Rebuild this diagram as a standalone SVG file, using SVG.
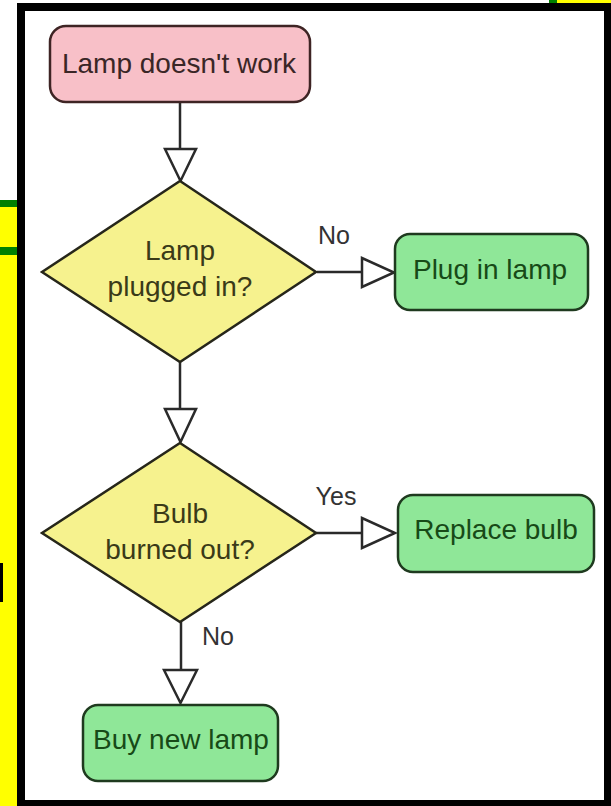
<svg xmlns="http://www.w3.org/2000/svg" width="611" height="806" viewBox="0 0 611 806">
<style>
.box-pink{fill:#f8c0c8;stroke:#3e2424;stroke-width:2.5}
.box-green{fill:#8fe798;stroke:#1f3a1f;stroke-width:2.5}
.dia{fill:#f6f28e;stroke:#26261a;stroke-width:2.5}
.t{font-family:"Liberation Sans",Arial,sans-serif;font-size:28px;text-anchor:middle}
.tp{fill:#3a2626}
.tg{fill:#174a17}
.td{fill:#3a3a18}
.lbl{font-family:"Liberation Sans",Arial,sans-serif;font-size:25px;fill:#333;text-anchor:middle}
.ln{stroke:#2a2a2a;stroke-width:2.5;fill:none}
.ah{fill:#fff;stroke:#2a2a2a;stroke-width:2.5;stroke-linejoin:miter}
</style>
<rect x="0" y="0" width="611" height="806" fill="#fff"/>
<!-- background fragments -->
<rect x="0" y="200" width="17" height="606" fill="#ffff00"/>
<rect x="0" y="200" width="17" height="7" fill="#008000"/>
<rect x="0" y="247" width="17" height="8" fill="#008000"/>
<rect x="0" y="563" width="3" height="39" fill="#000"/>
<rect x="557" y="0" width="54" height="3" fill="#ffff00"/>
<rect x="549" y="0" width="8" height="3" fill="#008000"/>
<!-- frame -->
<rect x="17" y="3" width="594" height="803" fill="#000"/>
<rect x="25" y="11" width="579" height="789" fill="#fff"/>
<g id="connectors">
<line class="ln" x1="180" y1="102" x2="180" y2="149"/>
<polygon class="ah" points="165,149 196,149 180.5,181"/>
<line class="ln" x1="317" y1="272" x2="362" y2="272"/>
<polygon class="ah" points="362,258 362,287 394,272.5"/>
<line class="ln" x1="180" y1="362" x2="180" y2="409"/>
<polygon class="ah" points="165,409 196,409 180.5,442"/>
<line class="ln" x1="316" y1="533" x2="362" y2="533"/>
<polygon class="ah" points="362,518 362,548 395,533"/>
<line class="ln" x1="181" y1="622" x2="181" y2="670"/>
<polygon class="ah" points="164,670 197,670 180.5,703"/>
<text class="lbl" x="334" y="244">No</text>
<text class="lbl" x="336" y="505">Yes</text>
<text class="lbl" x="218" y="645">No</text>
</g>
<g id="n1">
<rect class="box-pink" x="50" y="26" width="260" height="76" rx="16"/>
<text class="t tp" x="179" y="73">Lamp doesn't work</text>
</g>
<g id="n2">
<polygon class="dia" points="180,181 316,272 180,362 42,272"/>
<text class="t td" x="180" y="260">Lamp</text>
<text class="t td" x="180" y="296">plugged in?</text>
</g>
<g id="n3">
<rect class="box-green" x="395" y="234" width="193" height="76" rx="15"/>
<text class="t tg" x="490" y="279">Plug in lamp</text>
</g>
<g id="n4">
<polygon class="dia" points="180,443 316,533 180,622 42,533"/>
<text class="t td" x="180" y="523">Bulb</text>
<text class="t td" x="180" y="559">burned out?</text>
</g>
<g id="n5">
<rect class="box-green" x="398" y="495" width="196" height="77" rx="15"/>
<text class="t tg" x="496" y="539">Replace bulb</text>
</g>
<g id="n6">
<rect class="box-green" x="83" y="705" width="195" height="76" rx="15"/>
<text class="t tg" x="181" y="749">Buy new lamp</text>
</g>
</svg>
